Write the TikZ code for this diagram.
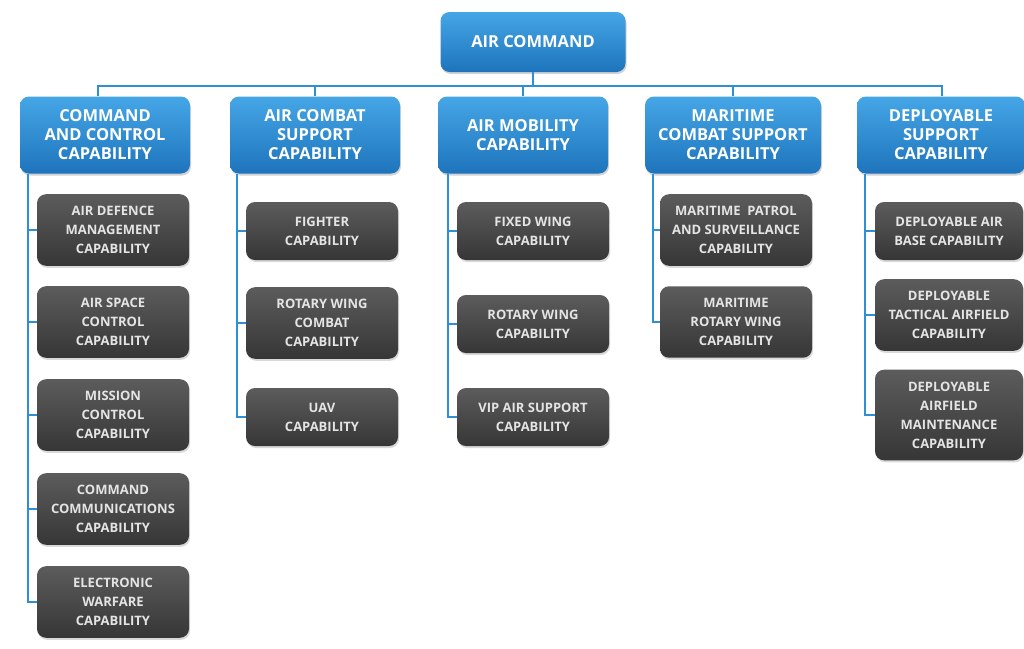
\documentclass[tikz,border=0pt]{standalone}
\usepackage{fontspec}
\setmainfont{Open Sans}
\usetikzlibrary{shadows}
\definecolor{capblue}{HTML}{2E8FD6}
\definecolor{capbluetop}{HTML}{45A6E6}
\definecolor{capbluebot}{HTML}{1E74BC}
\definecolor{capgreytop}{HTML}{5C5C5C}
\definecolor{capgreybot}{HTML}{363636}
\definecolor{captext}{HTML}{E4E4E4}
\begin{document}
\begin{tikzpicture}[x=1pt,y=-1pt,
  blue/.style={rounded corners=9pt,top color=capbluetop,bottom color=capbluebot,
    text=white,font=\fontsize{16.5}{19}\selectfont\bfseries,align=center,
    minimum width=170pt,minimum height=77pt,inner sep=2pt,
    drop shadow={opacity=0.35,shadow xshift=1pt,shadow yshift=-2pt}},
  grey/.style={rounded corners=9pt,top color=capgreytop,bottom color=capgreybot,
    text=captext,font=\fontsize{13}{19}\selectfont\bfseries,align=center,
    minimum width=152pt,minimum height=58pt,inner xsep=2pt,inner ysep=12pt,
    drop shadow={opacity=0.3,shadow xshift=1pt,shadow yshift=-2pt}},
  link/.style={draw=capblue,line width=2pt}]
  \useasboundingbox (0,0) rectangle (1024,648);
  \node[blue,minimum width=185pt,minimum height=60pt] (AC) at (533,42) {AIR COMMAND};
  \node[blue] (CC) at (105,135) {COMMAND\\AND CONTROL\\CAPABILITY};
  \node[blue] (ACS) at (315,135) {AIR COMBAT\\SUPPORT\\CAPABILITY};
  \node[blue] (AM) at (523,135) {AIR MOBILITY\\CAPABILITY};
  \node[blue,minimum width=176pt] (MCS) at (733,135) {MARITIME\\COMBAT SUPPORT\\CAPABILITY};
  \node[blue,minimum width=168pt] (DS) at (941,135) {DEPLOYABLE\\SUPPORT\\CAPABILITY};
  % command and control
  \node[grey] (ADM) at (113,230) {AIR DEFENCE\\MANAGEMENT\\CAPABILITY};
  \node[grey] (ASC) at (113,322) {AIR SPACE\\CONTROL\\CAPABILITY};
  \node[grey] (MC) at (113,415) {MISSION\\CONTROL\\CAPABILITY};
  \node[grey] (CCM) at (113,509) {COMMAND\\COMMUNICATIONS\\CAPABILITY};
  \node[grey] (EW) at (113,602) {ELECTRONIC\\WARFARE\\CAPABILITY};
  % air combat support
  \node[grey] (FC) at (322,231) {FIGHTER\\CAPABILITY};
  \node[grey] (RWC) at (322,323) {ROTARY WING\\COMBAT\\CAPABILITY};
  \node[grey] (UAV) at (322,417) {UAV\\CAPABILITY};
  % air mobility
  \node[grey] (FW) at (533,231) {FIXED WING\\CAPABILITY};
  \node[grey] (RW) at (533,324) {ROTARY WING\\CAPABILITY};
  \node[grey] (VIP) at (533,417) {VIP AIR SUPPORT\\CAPABILITY};
  % maritime
  \node[grey] (MPS) at (736,230) {MARITIME\ \ PATROL\\AND SURVEILLANCE\\CAPABILITY};
  \node[grey] (MRW) at (736,322) {MARITIME\\ROTARY WING\\CAPABILITY};
  % deployable
  \node[grey,minimum width=148pt] (DAB) at (949,231) {DEPLOYABLE AIR\\BASE CAPABILITY};
  \node[grey,minimum width=148pt] (DTA) at (949,315) {DEPLOYABLE\\TACTICAL AIRFIELD\\CAPABILITY};
  \node[grey,minimum width=148pt] (DAM) at (949,415) {DEPLOYABLE\\AIRFIELD\\MAINTENANCE\\CAPABILITY};
  \coordinate (bus) at (533,86);
  \draw[link] (AC.south) -- (AC.south |- bus);
  \draw[link] ([xshift=-7]CC.north) -- ([xshift=-7]CC.north |- bus) -| ([xshift=1]DS.north);
  \foreach \b in {ACS,AM,MCS}
    \draw[link] (\b.north) -- (\b.north |- bus);
  \foreach \c in {ADM,ASC,MC,CCM,EW}
    \draw[link] ([xshift=8]CC.south west) |- (\c.west);
  \foreach \c in {FC,RWC,UAV}
    \draw[link] ([xshift=7]ACS.south west) |- (\c.west);
  \foreach \c in {FW,RW,VIP}
    \draw[link] ([xshift=10]AM.south west) |- (\c.west);
  \foreach \c in {MPS,MRW}
    \draw[link] ([xshift=8]MCS.south west) |- (\c.west);
  \foreach \c in {DAB,DTA,DAM}
    \draw[link] ([xshift=8]DS.south west) |- (\c.west);
\end{tikzpicture}
\end{document}
